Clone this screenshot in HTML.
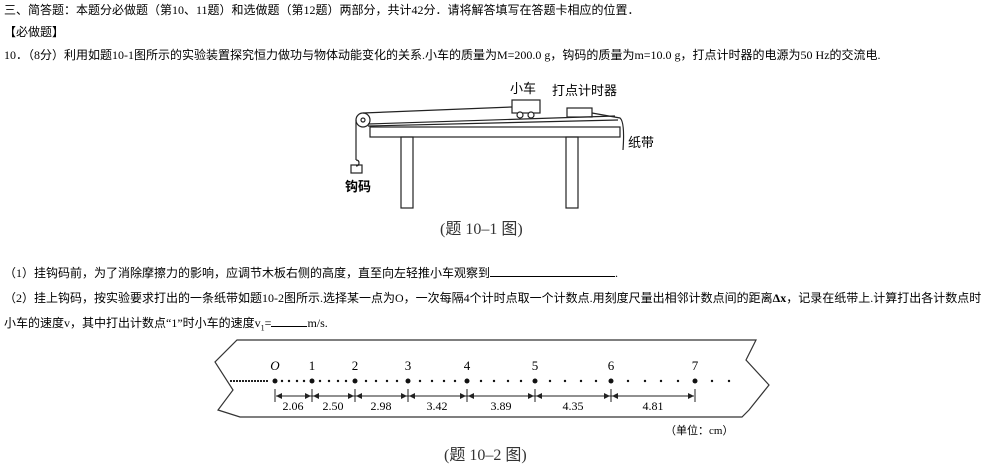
<!DOCTYPE html>
<html><head><meta charset="utf-8"><style>
body{margin:0;width:1000px;height:476px;background:#fff;position:relative;overflow:hidden;font-family:"Liberation Serif","Noto Sans CJK SC",sans-serif;font-size:12px;color:#000}
.t{position:absolute;white-space:nowrap;line-height:14px}
</style></head><body>
<div class="t" style="left:4px;top:3px">三、简答题：本题分必做题（第10、11题）和选做题（第12题）两部分，共计42分．请将解答填写在答题卡相应的位置．</div>
<div class="t" style="left:4px;top:25px">【必做题】</div>
<div class="t" style="left:4px;top:48px">10．（8分）利用如题10-1图所示的实验装置探究恒力做功与物体动能变化的关系.小车的质量为M=200.0 g，钩码的质量为m=10.0 g，打点计时器的电源为50 Hz的交流电.</div>
<div class="t" style="left:4px;top:266px">（1）挂钩码前，为了消除摩擦力的影响，应调节木板右侧的高度，直至向左轻推小车观察到<span style="display:inline-block;width:125px;border-bottom:1px solid #000"></span>.</div>
<div class="t" style="left:4px;top:291px">（2）挂上钩码，按实验要求打出的一条纸带如题10-2图所示.选择某一点为O，一次每隔4个计时点取一个计数点.用刻度尺量出相邻计数点间的距离<b>Δx</b>，记录在纸带上.计算打出各计数点时</div>
<div class="t" style="left:4px;top:316px">小车的速度v，其中打出计数点“1”时小车的速度v<sub style="font-size:8px">1</sub>=<span style="display:inline-block;width:36px;border-bottom:1px solid #000"></span>m/s.</div>

<svg width="1000" height="476" style="position:absolute;left:0;top:0" font-family="Liberation Serif,Noto Sans CJK SC,sans-serif">
<g stroke="#222" fill="none" stroke-width="1.2">
<rect x="370" y="127" width="250" height="10" fill="#fff"/>
<line x1="368" y1="124" x2="615" y2="116"/>
<line x1="368" y1="126" x2="618" y2="120"/>
<rect x="401" y="137" width="12" height="71"/>
<rect x="566" y="137" width="12" height="71"/>
<circle cx="363" cy="120" r="7"/>
<circle cx="363" cy="120" r="2"/>
<line x1="363" y1="113" x2="512" y2="107"/>
<line x1="356" y1="120" x2="356" y2="160"/>
<path d="M356 160 q3 0 3 3 q0 3 -3 3"/>
<rect x="351" y="165" width="11" height="8"/>
<rect x="512" y="100" width="28" height="13" fill="#fff"/>
<circle cx="520" cy="115" r="3" fill="#fff"/>
<circle cx="531" cy="115" r="3" fill="#fff"/>
<rect x="567" y="108" width="25" height="9"/>
<path d="M592 113 L620 118 Q625 122 623 150"/>
</g>
<g font-size="13">
<text x="510" y="93">小车</text>
<text x="552" y="95">打点计时器</text>
<text x="628" y="147">纸带</text>
<text x="345" y="191" font-weight="bold">钩码</text>
</g>
<text x="440" y="234" font-size="16" fill="#333">(题 10–1 图)</text>

<path d="M237 340 H756 L746 360 L769 385 L749 410 L742 417 H240 L218 410 L233 390 L215 362 Z" fill="#fff" stroke="#333" stroke-width="1.2"/>
<line x1="230" y1="381" x2="268" y2="381" stroke="#222" stroke-width="2" stroke-dasharray="2 1"/>
<g fill="#111">
<circle cx="275" cy="381" r="2.5"/><circle cx="312" cy="381" r="2.5"/><circle cx="355" cy="381" r="2.5"/><circle cx="408" cy="381" r="2.5"/><circle cx="467" cy="381" r="2.5"/><circle cx="535" cy="381" r="2.5"/><circle cx="611" cy="381" r="2.5"/><circle cx="695" cy="381" r="2.5"/>
<circle cx="282" cy="381" r="1.2"/><circle cx="289" cy="381" r="1.2"/><circle cx="297" cy="381" r="1.2"/><circle cx="304" cy="381" r="1.2"/>
<circle cx="320" cy="381" r="1.2"/><circle cx="329" cy="381" r="1.2"/><circle cx="338" cy="381" r="1.2"/><circle cx="346" cy="381" r="1.2"/>
<circle cx="366" cy="381" r="1.2"/><circle cx="376" cy="381" r="1.2"/><circle cx="387" cy="381" r="1.2"/><circle cx="397" cy="381" r="1.2"/>
<circle cx="420" cy="381" r="1.2"/><circle cx="432" cy="381" r="1.2"/><circle cx="444" cy="381" r="1.2"/><circle cx="455" cy="381" r="1.2"/>
<circle cx="481" cy="381" r="1.2"/><circle cx="494" cy="381" r="1.2"/><circle cx="508" cy="381" r="1.2"/><circle cx="521" cy="381" r="1.2"/>
<circle cx="550" cy="381" r="1.2"/><circle cx="565" cy="381" r="1.2"/><circle cx="581" cy="381" r="1.2"/><circle cx="596" cy="381" r="1.2"/>
<circle cx="628" cy="381" r="1.2"/><circle cx="645" cy="381" r="1.2"/><circle cx="661" cy="381" r="1.2"/><circle cx="678" cy="381" r="1.2"/>
<circle cx="712" cy="381" r="1.2"/><circle cx="729" cy="381" r="1.2"/>
</g>
<g font-size="13" text-anchor="middle">
<text x="275" y="370" font-style="italic">O</text><text x="312" y="370">1</text><text x="355" y="370">2</text><text x="408" y="370">3</text><text x="467" y="370">4</text><text x="535" y="370">5</text><text x="611" y="370">6</text><text x="695" y="370">7</text>
</g>
<g stroke="#222" stroke-width="1">
<line x1="275" y1="389" x2="275" y2="402"/><line x1="312" y1="389" x2="312" y2="402"/><line x1="355" y1="389" x2="355" y2="402"/><line x1="408" y1="389" x2="408" y2="402"/><line x1="467" y1="389" x2="467" y2="402"/><line x1="535" y1="389" x2="535" y2="402"/><line x1="611" y1="389" x2="611" y2="402"/><line x1="695" y1="389" x2="695" y2="402"/>
<line x1="276" y1="396" x2="694" y2="396"/>
</g>
<g fill="#222">
<path d="M276 396 l6 -3 v6z"/><path d="M311 396 l-6 -3 v6z"/><path d="M313 396 l6 -3 v6z"/><path d="M354 396 l-6 -3 v6z"/><path d="M356 396 l6 -3 v6z"/><path d="M407 396 l-6 -3 v6z"/><path d="M409 396 l6 -3 v6z"/><path d="M466 396 l-6 -3 v6z"/><path d="M468 396 l6 -3 v6z"/><path d="M534 396 l-6 -3 v6z"/><path d="M536 396 l6 -3 v6z"/><path d="M610 396 l-6 -3 v6z"/><path d="M612 396 l6 -3 v6z"/><path d="M694 396 l-6 -3 v6z"/>
</g>
<g font-size="12" text-anchor="middle">
<text x="293" y="410">2.06</text><text x="333" y="410">2.50</text><text x="381" y="410">2.98</text><text x="437" y="410">3.42</text><text x="501" y="410">3.89</text><text x="573" y="410">4.35</text><text x="653" y="410">4.81</text>
</g>
<text x="665" y="434" font-size="11">（单位：cm）</text>
<text x="444" y="460" font-size="16" fill="#333">(题 10–2 图)</text>
</svg>
</body></html>
